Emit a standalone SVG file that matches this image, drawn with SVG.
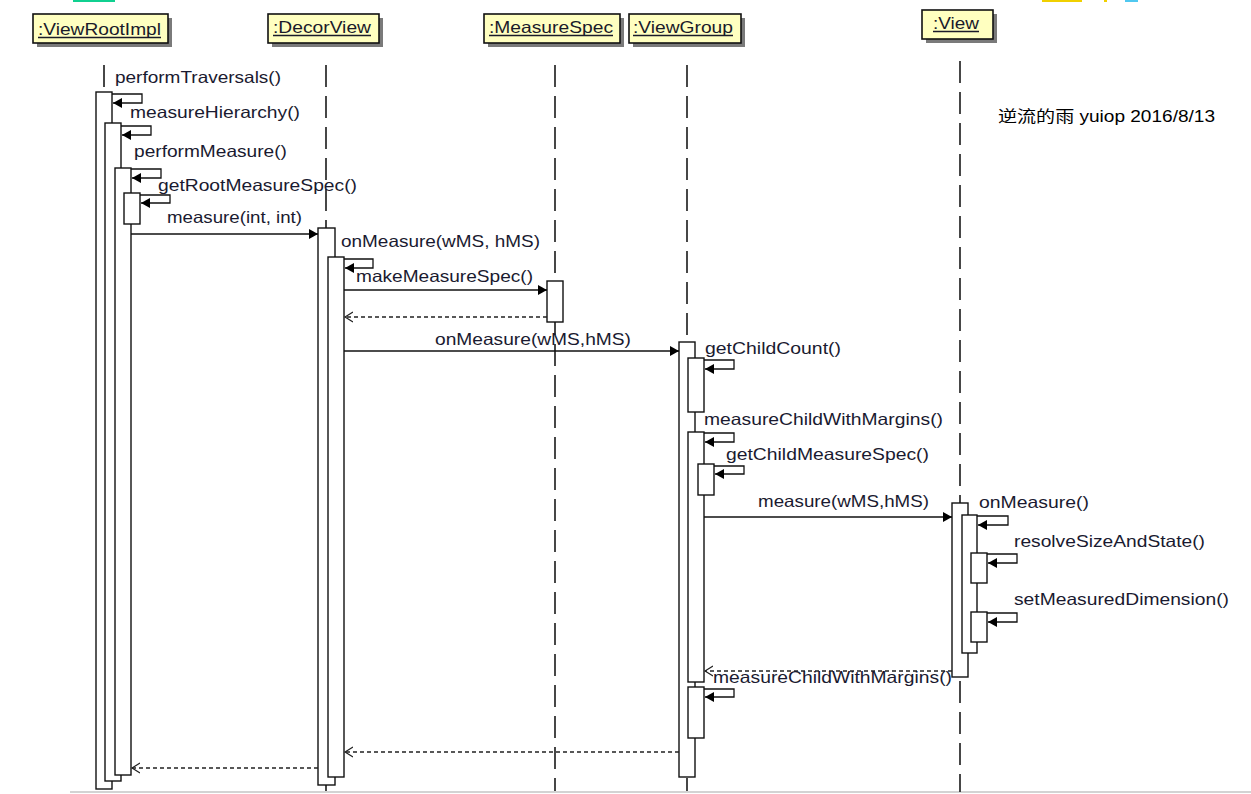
<svg xmlns="http://www.w3.org/2000/svg" width="1251" height="794" viewBox="0 0 1251 794">
<style>
.hdr{fill:#ffffc0;stroke:#111;stroke-width:1.6}
.shd{fill:#7a7a7a}
.ht{font-family:"Liberation Sans",Arial,sans-serif;font-size:16.5px;fill:#1a1a2a}
.ul{stroke:#1a1a2a;stroke-width:1.3}
.life{stroke:#333;stroke-width:1.8;stroke-dasharray:22 9;fill:none}
.bar{fill:#fff;stroke:#111;stroke-width:1.4}
.msg{stroke:#111;stroke-width:1.3;fill:none}
.ret{stroke:#222;stroke-width:1.3;fill:none;stroke-dasharray:4 3}
.lbl{font-family:"Liberation Sans",Arial,sans-serif;font-size:16.5px;fill:#1a1a30}
.wm{font-family:"Liberation Sans","Noto Sans CJK SC",sans-serif;font-size:16px;fill:#000}
</style>
<defs>
<marker id="fh" markerUnits="userSpaceOnUse" markerWidth="10" markerHeight="11" refX="9" refY="5" orient="auto" viewBox="0 0 10 10">
<path d="M0,0 L9,5 L0,10 z" fill="#000"/>
</marker>
<marker id="oh" markerUnits="userSpaceOnUse" markerWidth="10" markerHeight="12" refX="8" refY="5" orient="auto" viewBox="0 0 10 10">
<path d="M0,0 L8,5 L0,10" fill="none" stroke="#222" stroke-width="1.2"/>
</marker>
</defs>
<rect width="1251" height="794" fill="#fff"/>
<g id="artifacts">
<rect x="73" y="0" width="42" height="2" fill="#10d090"/>
<rect x="1042" y="0" width="40" height="2" fill="#f0d000"/>
<rect x="1104" y="0" width="3" height="2" fill="#f0d000"/>
<rect x="1125" y="0" width="13" height="2" fill="#50c8f0"/>
<line x1="70" y1="792" x2="1251" y2="792" stroke="#c4c4c4" stroke-width="1.5"/>
</g>
<g id="lifelines">
<line class="life" x1="104" y1="65" x2="104" y2="92"/>
<line class="life" x1="326" y1="65" x2="326" y2="791"/>
<line class="life" x1="555" y1="65" x2="555" y2="791"/>
<line class="life" x1="687" y1="65" x2="687" y2="791"/>
<line class="life" x1="960" y1="61" x2="960" y2="792"/>
</g>
<g id="ViewRootImpl">
<rect class="shd" x="37" y="18" width="135" height="29"/>
<rect class="hdr" x="33" y="14" width="135" height="29"/>
<text class="ht" x="38" y="35" textLength="123" lengthAdjust="spacingAndGlyphs">:ViewRootImpl</text>
<line class="ul" x1="38" y1="37.5" x2="161" y2="37.5"/>
<rect class="bar" x="96" y="92" width="16" height="697"/>
<rect class="bar" x="105" y="123" width="16" height="658"/>
<rect class="bar" x="115" y="168" width="16" height="607"/>
<rect class="bar" x="124" y="193" width="16" height="31"/>
</g>
<g id="DecorView">
<rect class="shd" x="272" y="18" width="111" height="29"/>
<rect class="hdr" x="268" y="14" width="111" height="29"/>
<text class="ht" x="273" y="33" textLength="98" lengthAdjust="spacingAndGlyphs">:DecorView</text>
<line class="ul" x1="273" y1="35.5" x2="371" y2="35.5"/>
<rect class="bar" x="318" y="228" width="17" height="557"/>
<rect class="bar" x="328" y="257" width="16" height="520"/>
</g>
<g id="MeasureSpec">
<rect class="shd" x="488" y="18" width="136" height="29"/>
<rect class="hdr" x="484" y="14" width="136" height="29"/>
<text class="ht" x="489" y="33" textLength="124" lengthAdjust="spacingAndGlyphs">:MeasureSpec</text>
<line class="ul" x1="489" y1="35.5" x2="613" y2="35.5"/>
<rect class="bar" x="547" y="281" width="16" height="41"/>
</g>
<g id="ViewGroup">
<rect class="shd" x="633" y="18" width="112" height="29"/>
<rect class="hdr" x="629" y="14" width="112" height="29"/>
<text class="ht" x="633" y="33" textLength="100" lengthAdjust="spacingAndGlyphs">:ViewGroup</text>
<line class="ul" x1="633" y1="35.5" x2="733" y2="35.5"/>
<rect class="bar" x="679" y="342" width="16" height="435"/>
<rect class="bar" x="688" y="358" width="16" height="54"/>
<rect class="bar" x="688" y="432" width="16" height="250"/>
<rect class="bar" x="698" y="464" width="16" height="31"/>
<rect class="bar" x="688" y="687" width="16" height="51"/>
</g>
<g id="View">
<rect class="shd" x="926" y="14" width="71" height="29"/>
<rect class="hdr" x="922" y="10" width="71" height="29"/>
<text class="ht" x="933" y="29" textLength="46" lengthAdjust="spacingAndGlyphs">:View</text>
<line class="ul" x1="933" y1="31.5" x2="979" y2="31.5"/>
<rect class="bar" x="952" y="503" width="16" height="174"/>
<rect class="bar" x="962" y="515" width="15" height="138"/>
<rect class="bar" x="971" y="553" width="16" height="30"/>
<rect class="bar" x="971" y="612" width="16" height="30"/>
</g>
<g id="connectors">
<polyline class="msg" points="112,94 142,94 142,103 113,103" marker-end="url(#fh)"/>
<polyline class="msg" points="121,126 151,126 151,135 122,135" marker-end="url(#fh)"/>
<polyline class="msg" points="131,169 161,169 161,178 132,178" marker-end="url(#fh)"/>
<polyline class="msg" points="140,195 170,195 170,203 141,203" marker-end="url(#fh)"/>
<line class="msg" x1="131" y1="234" x2="318" y2="234" marker-end="url(#fh)"/>
<polyline class="msg" points="344,259 373,259 373,268 345,268" marker-end="url(#fh)"/>
<line class="msg" x1="344" y1="290" x2="547" y2="290" marker-end="url(#fh)"/>
<line class="ret" x1="547" y1="317" x2="345" y2="317" marker-end="url(#oh)"/>
<line class="msg" x1="344" y1="351" x2="679" y2="351" marker-end="url(#fh)"/>
<polyline class="msg" points="704,360 734,360 734,369 705,369" marker-end="url(#fh)"/>
<polyline class="msg" points="704,433 734,433 734,442 705,442" marker-end="url(#fh)"/>
<polyline class="msg" points="714,466 744,466 744,474 715,474" marker-end="url(#fh)"/>
<line class="msg" x1="704" y1="517" x2="952" y2="517" marker-end="url(#fh)"/>
<polyline class="msg" points="977,516 1008,516 1008,525 978,525" marker-end="url(#fh)"/>
<polyline class="msg" points="987,554 1017,554 1017,563 988,563" marker-end="url(#fh)"/>
<polyline class="msg" points="987,613 1017,613 1017,622 988,622" marker-end="url(#fh)"/>
<line class="ret" x1="952" y1="671" x2="705" y2="671" marker-end="url(#oh)"/>
<polyline class="msg" points="704,689 734,689 734,697 705,697" marker-end="url(#fh)"/>
<line class="ret" x1="679" y1="752" x2="345" y2="752" marker-end="url(#oh)"/>
<line class="ret" x1="318" y1="768" x2="132" y2="768" marker-end="url(#oh)"/>
</g>
<g id="labels">
<text class="lbl" x="115" y="83" textLength="166" lengthAdjust="spacingAndGlyphs">performTraversals()</text>
<text class="lbl" x="130" y="118" textLength="170" lengthAdjust="spacingAndGlyphs">measureHierarchy()</text>
<text class="lbl" x="134" y="157" textLength="153" lengthAdjust="spacingAndGlyphs">performMeasure()</text>
<text class="lbl" x="158" y="191" textLength="199" lengthAdjust="spacingAndGlyphs">getRootMeasureSpec()</text>
<text class="lbl" x="167" y="223" textLength="135" lengthAdjust="spacingAndGlyphs">measure(int, int)</text>
<text class="lbl" x="341" y="247" textLength="199" lengthAdjust="spacingAndGlyphs">onMeasure(wMS, hMS)</text>
<text class="lbl" x="356" y="282" textLength="177" lengthAdjust="spacingAndGlyphs">makeMeasureSpec()</text>
<text class="lbl" x="435" y="345" textLength="196" lengthAdjust="spacingAndGlyphs">onMeasure(wMS,hMS)</text>
<text class="lbl" x="705" y="354" textLength="136" lengthAdjust="spacingAndGlyphs">getChildCount()</text>
<text class="lbl" x="704" y="425" textLength="239" lengthAdjust="spacingAndGlyphs">measureChildWithMargins()</text>
<text class="lbl" x="726" y="460" textLength="203" lengthAdjust="spacingAndGlyphs">getChildMeasureSpec()</text>
<text class="lbl" x="758" y="507" textLength="171" lengthAdjust="spacingAndGlyphs">measure(wMS,hMS)</text>
<text class="lbl" x="979" y="508" textLength="110" lengthAdjust="spacingAndGlyphs">onMeasure()</text>
<text class="lbl" x="1014" y="547" textLength="191" lengthAdjust="spacingAndGlyphs">resolveSizeAndState()</text>
<text class="lbl" x="1014" y="605" textLength="215" lengthAdjust="spacingAndGlyphs">setMeasuredDimension()</text>
<text class="lbl" x="713" y="683" textLength="239" lengthAdjust="spacingAndGlyphs">measureChildWithMargins()</text>
<text class="wm" x="998" y="122" textLength="217" lengthAdjust="spacingAndGlyphs">逆流的雨 yuiop 2016/8/13</text>
</g>
</svg>
